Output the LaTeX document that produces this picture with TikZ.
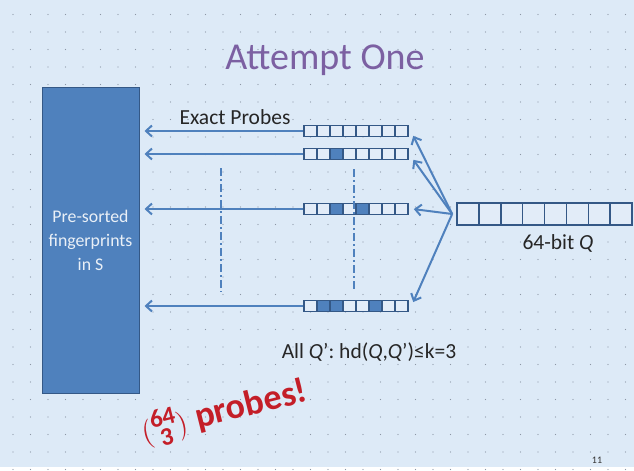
\documentclass[tikz,border=0pt]{standalone}
\usepackage{fontspec}
\setmainfont{Carlito}
\usepackage{amsmath}
\usetikzlibrary{
  positioning,
  arrows.meta,
  calc
}

\definecolor{slidebg}{RGB}{221,234,247}
\definecolor{griddot}{RGB}{140,150,165}
\definecolor{qblue}{RGB}{79,129,189}
\definecolor{qedge}{RGB}{52,88,134}
\definecolor{cellfill}{RGB}{226,236,248}
\definecolor{titlepurple}{RGB}{124,96,162}
\definecolor{probered}{RGB}{196,30,40}

\begin{document}
\begin{tikzpicture}[
  x=1pt, y=-1pt,
  fpbox/.style={draw=qedge, fill=qblue, line width=1pt, minimum width=97pt, minimum height=305pt, inner sep=0pt, font=\fontsize{17.8}{24}\selectfont, text=white!88!qblue, align=center},
  bitcell/.style={draw=qedge, fill=cellfill, line width=1.6pt, minimum width=13pt, minimum height=11pt, inner sep=0pt},
  bitset/.style={bitcell, fill=qblue},
  qcell/.style={draw=qedge, fill=cellfill, line width=1.6pt, minimum width=21.9pt, minimum height=22pt, inner sep=0pt},
  probe/.style={-{Straight Barb[length=6pt, width=11pt]}, qblue, line width=2pt},
  guide/.style={qblue, line width=1.9pt, dash pattern=on 8pt off 3pt on 2pt off 3pt},
  lbl/.style={font=\fontsize{21.5}{24}\selectfont, text=black!85},
]
% Fondo con rejilla de puntos
\fill[slidebg] (0,0) rectangle (634,467);
\foreach \i in {0,...,35} {
  \foreach \j in {0,...,26} {
    \fill[griddot] (13+17.5*\i, 14.5+17.5*\j) circle (0.6pt);
  }
}

% Titulo
\node[font=\fontsize{38}{44}\selectfont, text=titlepurple] (title) at (325, 60) {Attempt One};

% Huellas ordenadas
\node[fpbox] (fp) at (90.5, 240.5) {Pre-sorted\\fingerprints\\in S};

% Filas de bits Q'
\foreach \r/\yy in {1/131, 2/154, 3/209, 4/306} {
  \foreach \b in {1,...,8} {
    \node[bitcell] (r\r c\b) at (297.5+13*\b, \yy) {};
  }
}
\foreach \b in {3} \node[bitset] at (r2c\b) {};
\foreach \b in {3,5} \node[bitset] at (r3c\b) {};
\foreach \b in {2,3,6} \node[bitset] at (r4c\b) {};

% Consulta de 64 bits
\foreach \b in {1,...,8} {
  \node[qcell] (q\b) at (446+21.9*\b, 214) {};
}
\node[lbl] (qlabel) at (558, 243) {64-bit \textit{Q}};

% Sondas exactas
\node[lbl] (exact) at (235, 117) {Exact Probes};
\foreach \r in {1,...,4} {
  \draw[probe, shorten >=5pt] (r\r c1.west) -- (r\r c1.west -| fp.east);
}

% Volteos desde Q
\coordinate (qtail) at ($(q1.west)+(-4,0)$);
\foreach \r/\dy in {1/4, 2/5, 3/0, 4/-3} {
  \draw[probe, shorten >=1pt] (qtail) -- ($(r\r c8.east)+(4,\dy)$);
}

% Lineas guia
\coordinate (g1top) at ($(fp.east |- r2c1.south)!0.5!(r2c1.south west)+(0,8)$);
\coordinate (g1bot) at ($(fp.east |- r4c1.north)!0.5!(r4c1.north west)+(0,-8)$);
\draw[guide] (g1top) -- (g1bot);
\draw[guide] ($(r2c4.south east)+(-3,9)$) -- ($(r4c4.north east)+(-3,-9)$);

% Anotaciones
\node[lbl] (allq) at (369, 352) {All \textit{Q}’: hd(\textit{Q},\textit{Q}’)≤k=3};
\node[font=\fontsize{36}{40}\selectfont\bfseries, text=probered, rotate=14] (count) at (224, 412) {\(\binom{\text{64}}{\text{3}}\) probes!};
\node[font=\fontsize{10}{12}\selectfont, text=black!80] (page) at (597, 460) {11};
\end{tikzpicture}
\end{document}
